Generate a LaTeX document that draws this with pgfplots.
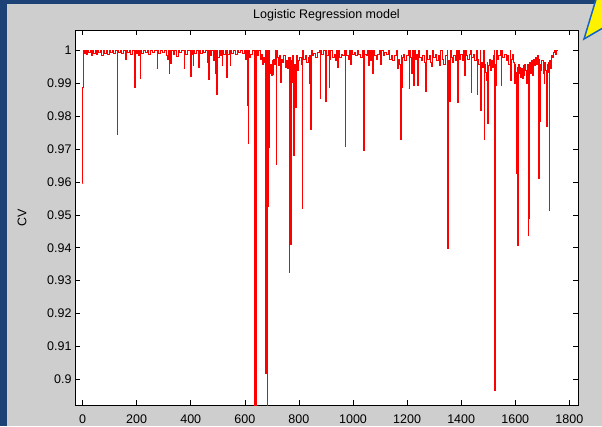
\documentclass[border=0pt]{standalone}
\usepackage{fontspec}
\setmainfont{Liberation Sans}
\usepackage{pgfplots}
\pgfplotsset{compat=1.18}
\definecolor{figgray}{RGB}{206,206,206}
\definecolor{bgblue}{RGB}{28,66,118}
\definecolor{callblue}{RGB}{20,100,200}
\begin{document}
\begin{tikzpicture}
\useasboundingbox (0pt,0pt) rectangle (602pt,426pt);
\fill[bgblue] (0pt,0pt) rectangle (602pt,426pt);
\fill[figgray] (7pt,0pt) rectangle (602pt,422pt);
\begin{axis}[
  at={(75pt,21pt)}, anchor=south west,
  scale only axis, width=503pt, height=375pt,
  xmin=-28, xmax=1832, ymin=0.8921, ymax=1.0063,
  axis background/.style={fill=white},
  axis line style={black, line width=0.7pt},
  tick align=inside, major tick length=5pt,
  tick style={black, line width=0.6pt},
  xtick={0,200,400,600,800,1000,1200,1400,1600,1800},
  xticklabels={0,200,400,600,800,1000,1200,1400,1600,1800},
  ytick={0.9,0.91,0.92,0.93,0.94,0.95,0.96,0.97,0.98,0.99,1},
  yticklabels={0.9,0.91,0.92,0.93,0.94,0.95,0.96,0.97,0.98,0.99,1},
  ticklabel style={font=\fontsize{12.5}{14}\selectfont, text=black},
  xticklabel style={anchor=base, yshift=-18pt},
  title={Logistic Regression model},
  title style={font=\fontsize{12.5}{14}\selectfont, at={(axis description cs:0.5,1)}, anchor=base, yshift=5pt},
  ylabel={CV},
  ylabel style={font=\fontsize{12.5}{14}\selectfont, at={(axis description cs:-0.105,0.5)}, anchor=center},
]
\addplot[red, line width=0.6pt, const plot mark mid] coordinates {
(0,0.9596) (1,0.9889) (3,0.9889) (4,1) (8,0.9993) (12,1) (16,0.9990) (20,1) (25,0.9994) (29,1) (34,0.9985) (38,1) (44,0.9992) (48,1) (53,0.9988) (57,1) (63,0.9996) (68,1) (74,0.9987) (78,1) (85,0.9993) (90,1) (96,0.9990) (101,1) (107,0.9996) (112,1) (118,0.9992) (123,1) (128,1) (129,0.9744) (130,1)
(136,0.9995) (141,1) (148,0.9991) (153,1) (159,1) (160,0.9975) (161,1) (168,0.9994) (174,1) (181,0.9990) (187,1) (192,1) (193,0.9887) (194,1) (200,0.9993) (205,1) (209,0.9985) (213,1) (214,0.9915) (215,1) (222,0.9992) (228,1) (235,0.9994) (241,1) (248,0.9990) (254,1) (262,0.9995) (268,1) (274,1) (275,0.9945) (276,1) (283,0.9993) (290,1) (297,0.9996) (304,1)
(312,0.9985) (316,0.9975) (318,1) (320,1) (321,0.9931) (322,0.9965) (324,1) (328,0.9962) (331,1) (338,0.9990) (344,1) (350,0.9982) (356,1) (362,0.9994) (368,1) (374,1) (375,0.9946) (376,1) (383,0.9990) (390,1) (399,1) (400,0.9923) (401,1) (405,0.9990) (408,1) (409,0.9955) (410,1) (418,0.9993) (424,1) (429,1) (430,0.9950) (431,1) (438,0.9992) (444,1) (452,0.9995) (458,1) (462,0.9965) (464,1) (466,1) (467,0.9913) (468,1) (475,0.9985) (480,1) (485,0.9972) (489,1) (490,0.9930) (492,1) (495,1) (496,0.9868) (497,1) (502,0.9980) (506,1) (510,0.9985) (514,1) (517,0.9955) (518,1) (525,0.9990) (530,1) (533,0.9919) (534,1) (540,0.9988) (544,1) (547,0.9955) (548,1) (555,0.9993) (561,1) (568,0.9990) (574,1) (581,0.9995) (587,1) (594,0.9992) (600,1)
(604,0.9975) (606,1) (608,1) (609,0.9835) (610,1) (613,1) (614,0.9718) (615,1) (620,0.9980) (624,0.9990) (628,1) (633,1) (634,0.88) (635,1) (640,1) (641,0.88) (642,1) (648,0.9985) (653,1) (658,0.9975) (662,0.9990) (666,0.9960) (670,0.9980) (674,0.9965) (677,1) (678,0.9019) (680,0.9930) (682,1) (683,0.88) (684,1) (685,0.9525) (686,0.9965) (689,1) (690,0.9705) (691,0.9950) (694,0.9930) (697,0.9960) (700,0.9925) (703,0.9970) (705,0.9927) (708,0.9975) (712,0.9960) (716,1) (717,0.9655) (718,1) (722,0.9980) (726,0.9955) (730,0.9985) (734,0.9905) (737,0.9975) (742,0.9965) (746,0.9985) (750,0.9950) (754,0.9970) (758,0.9945) (762,0.9980) (764,0.9325) (766,0.9980) (769,0.9411) (771,0.9970) (775,0.9905) (778,0.9985) (782,0.9682) (784,0.9960) (788,0.9829) (790,0.9985) (795,0.9940) (800,0.9970) (805,0.9980) (810,0.9960) (812,0.9520) (814,1) (820,0.9975) (826,0.9985) (832,0.9965) (836,0.9980) (839,0.9900) (841,0.9985) (843,0.9760) (845,1) (852,0.9985) (858,0.9992) (865,0.9980) (872,0.9995) (879,1) (880,0.9855) (881,1) (888,0.9990) (894,1) (898,1) (899,0.9845) (900,1)
(906,0.9985) (910,1) (913,0.9889) (915,0.9975) (920,1) (926,0.9980) (932,0.9990) (938,0.9970) (942,1) (944,0.9950) (946,1) (952,0.9980) (958,0.9990) (964,0.9985) (970,1) (971,0.9708) (972,1) (978,0.9985) (984,0.9975) (990,1) (991,0.9960) (993,1) (1000,0.9990) (1006,0.9995) (1012,0.9985) (1018,1) (1024,0.9990) (1030,0.9980) (1036,1) (1040,0.9698) (1041,1) (1046,0.9990) (1052,0.9985) (1057,1) (1058,0.9955) (1060,1) (1066,0.9970) (1070,1) (1074,0.9931) (1076,1) (1082,0.9985) (1088,0.9975) (1094,0.9990) (1100,1) (1105,0.9960) (1107,1) (1114,0.9985) (1120,0.9995) (1126,0.9990) (1132,1) (1138,0.9975) (1144,0.9985) (1150,0.9970) (1156,0.9985) (1162,1) (1165,0.9947) (1168,0.9975) (1172,0.9960) (1176,0.9730) (1178,0.9985) (1181,0.9887) (1183,0.9980) (1188,0.9990) (1194,0.9970) (1200,0.9985) (1206,1) (1207,0.9884) (1208,1) (1213,0.9980) (1218,0.9930) (1220,1)
(1224,0.9896) (1226,1) (1232,0.9975) (1237,0.9990) (1240,0.9896) (1242,1) (1248,0.9980) (1254,0.9970) (1260,0.9985) (1265,0.9965) (1270,0.9875) (1272,1) (1278,0.9975) (1284,0.9985) (1290,0.9965) (1292,0.9952) (1294,1) (1300,0.9980) (1306,0.9990) (1312,0.9970) (1318,0.9985) (1323,0.9955) (1326,1) (1332,0.9975) (1338,0.9960) (1344,0.9985) (1350,1) (1351,0.9398) (1353,0.9970) (1357,0.9845) (1359,1) (1365,0.9980) (1370,0.9965) (1375,0.9985) (1380,0.9970) (1386,1) (1387,0.9844) (1389,1) (1395,0.9975) (1400,0.9990) (1406,0.9970) (1412,1) (1413,0.9925) (1415,1) (1420,0.9985) (1426,0.9975) (1432,0.9990) (1437,1) (1438,0.9872) (1440,0.9980) (1446,0.9990) (1452,0.9970) (1459,1) (1460,0.9868) (1462,0.9975) (1467,0.9960) (1472,1) (1473,0.9819) (1476,0.9965) (1480,0.9950) (1485,1) (1486,0.9731) (1488,0.9960) (1491,0.9935) (1494,0.9910) (1497,0.9965) (1499,0.9779) (1501,0.9955) (1505,0.9975) (1509,0.9940) (1513,0.9970) (1517,0.9950) (1520,0.9985) (1523,1) (1524,0.8966) (1525,0.9960) (1529,0.9896) (1531,1)
(1536,0.9975) (1542,0.9985) (1547,1) (1548,0.9896) (1550,1) (1556,0.9980) (1562,0.9990) (1568,0.9970) (1574,0.9985) (1578,0.9960) (1582,1) (1584,0.9911) (1586,0.9975) (1590,0.9990) (1594,0.9965) (1598,0.9900) (1600,0.9960) (1603,0.9935) (1605,0.9627) (1607,0.9950) (1610,0.9408) (1612,0.9960) (1615,0.9930) (1618,0.9950) (1621,0.9920) (1624,0.9945) (1627,0.9915) (1630,0.9955) (1633,0.9925) (1636,0.9960) (1639,0.9940) (1643,0.9900) (1645,0.9960) (1648,0.9439) (1650,0.9950) (1652,0.9489) (1654,0.9965) (1658,0.9930) (1662,0.9970) (1665,0.9925) (1668,0.9975) (1672,0.9955) (1676,0.9980) (1680,0.9960) (1684,0.9985) (1687,0.9611) (1689,0.9975) (1690,0.9784) (1692,0.9960) (1696,0.9940) (1700,0.9970) (1704,0.9930) (1708,0.9900) (1710,0.9965) (1713,0.9940) (1716,0.9769) (1718,0.9960) (1721,0.9935) (1724,0.9965) (1726,0.9515) (1728,0.9970) (1732,0.9945) (1736,0.9985) (1738,0.9980) (1742,0.9995) (1746,1) (1750,0.9990) (1754,1) (1757,1)
};
\end{axis}
\fill[yellow, draw=callblue, line width=1.5pt] (584pt,387pt) -- (597pt,430pt) -- (608pt,430pt) -- (608pt,401pt) -- cycle;
\end{tikzpicture}
\end{document}
